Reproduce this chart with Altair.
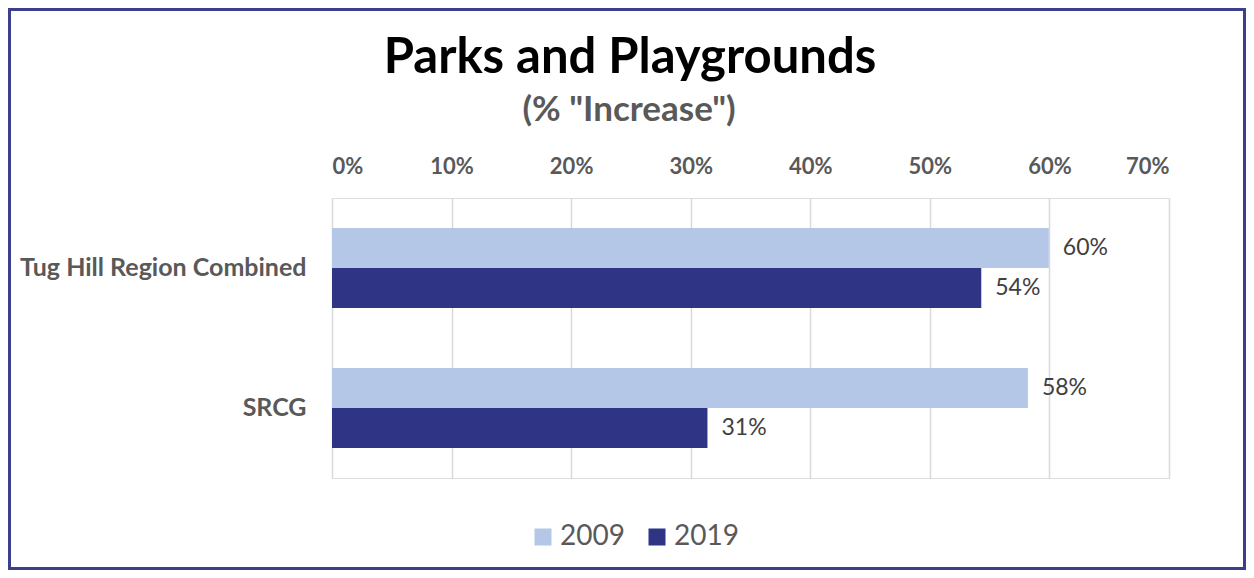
import altair as alt
import pandas as pd

title_text = "Parks and Playgrounds"
subtitle_text = '(% "Increase")'
categories = ["Tug Hill Region Combined", "Tug Hill Region Combined", "SRCG", "SRCG"]
years = ["2009", "2019", "2009", "2019"]
values = [0.5995, 0.543, 0.582, 0.314]
tick_values = [0, 0.1, 0.2, 0.3, 0.4, 0.5, 0.6, 0.7]
cat_order = ["Tug Hill Region Combined", "SRCG"]
year_order = ["2009", "2019"]
colors = ["#B4C7E7", "#2F3485"]

df = pd.DataFrame({"category": categories, "year": years, "value": values})

FONT = "Lato"
GRAY = "#595959"

base = alt.Chart(df)

y_enc = alt.Y(
    "category:N",
    sort=cat_order,
    scale=alt.Scale(paddingInner=0, paddingOuter=0),
    axis=alt.Axis(
        title=None, domain=False, ticks=False, labelFontSize=25, labelFont=FONT,
        labelFontWeight="bold", labelColor=GRAY, labelPadding=26, labelLimit=400,
    ),
)
yoff = alt.YOffset("year:N", sort=year_order, scale=alt.Scale(paddingOuter=0.75, paddingInner=0))
x_enc = alt.X(
    "value:Q",
    scale=alt.Scale(domain=[0, 0.7], nice=False),
    axis=alt.Axis(
        orient="top", title=None, format=".0%", values=tick_values, domain=False, ticks=False,
        labelFontSize=22, labelFont=FONT, labelFontWeight="bold", labelColor=GRAY,
        labelPadding=20, grid=True, gridColor="#D9D9D9", gridWidth=1.5,
    ),
)

bars = base.mark_bar().encode(
    x=x_enc,
    y=y_enc,
    yOffset=yoff,
    color=alt.Color(
        "year:N", sort=year_order, scale=alt.Scale(domain=year_order, range=colors),
        legend=alt.Legend(
            title=None, orient="none", legendX=197, legendY=325, direction="horizontal",
            symbolType="square", symbolSize=289, symbolStrokeWidth=0, labelFontSize=28,
            labelFont=FONT, labelColor=GRAY, labelOffset=3, columnPadding=18,
        ),
    ),
)

labels = base.mark_text(align="left", baseline="middle", dx=14, fontSize=23, font=FONT, color="#404040").encode(
    x="value:Q",
    y=alt.Y("category:N", sort=cat_order),
    yOffset=alt.YOffset("year:N", sort=year_order),
    text=alt.Text("value:Q", format=".0%"),
)

one = pd.DataFrame({"a": [0]})
title = alt.Chart(one).mark_text(
    text=title_text, font=FONT, fontSize=49, fontWeight="bold", color="black",
    align="center", baseline="alphabetic",
).encode(x=alt.value(298), y=alt.value(-125))
subtitle = alt.Chart(one).mark_text(
    text=subtitle_text, font=FONT, fontSize=35, fontWeight="bold", color=GRAY,
    align="center", baseline="alphabetic",
).encode(x=alt.value(297), y=alt.value(-77))

border = alt.Chart(one).mark_rect(filled=False, stroke="#3B3F8C", strokeWidth=3).encode(
    x=alt.value(-322.5), x2=alt.value(912.5), y=alt.value(-188.5), y2=alt.value(370.5)
)

chart = alt.layer(bars, labels, title, subtitle, border).properties(
    width=837,
    height=280,
    autosize=alt.AutoSizeParams(type="none"),
    padding={"left": 324, "top": 190, "right": 77, "bottom": 92},
).configure_view(stroke=None).configure(background="white")

chart.save("out.html", embed_options={"renderer": "svg", "actions": False})
